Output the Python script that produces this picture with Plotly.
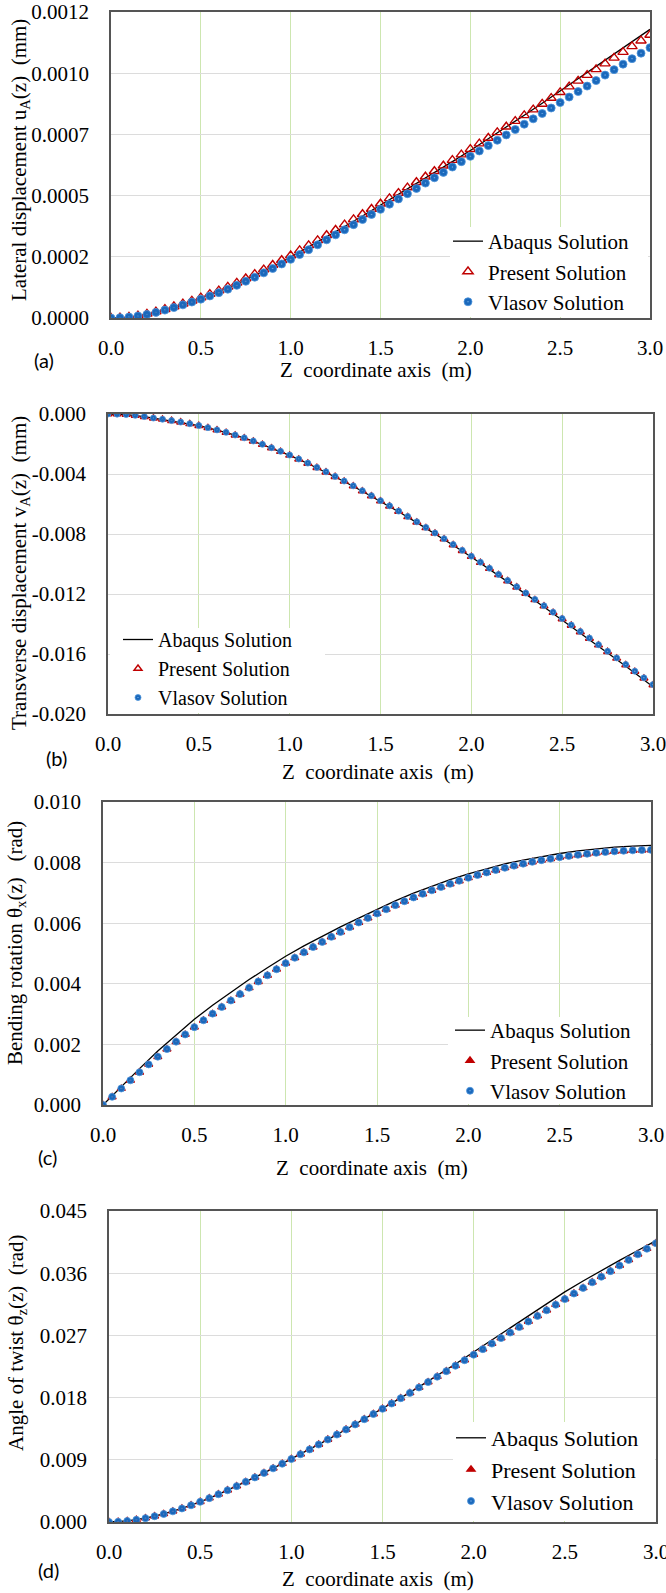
import plotly.graph_objects as go

W, H = 666, 1593

# ---------------- data ----------------
z_nodes = [0.00, 0.05, 0.10, 0.15, 0.20, 0.25, 0.30, 0.35, 0.40, 0.45,
           0.50, 0.55, 0.60, 0.65, 0.70, 0.75, 0.80, 0.85, 0.90, 0.95,
           1.00, 1.05, 1.10, 1.15, 1.20, 1.25, 1.30, 1.35, 1.40, 1.45,
           1.50, 1.55, 1.60, 1.65, 1.70, 1.75, 1.80, 1.85, 1.90, 1.95,
           2.00, 2.05, 2.10, 2.15, 2.20, 2.25, 2.30, 2.35, 2.40, 2.45,
           2.50, 2.55, 2.60, 2.65, 2.70, 2.75, 2.80, 2.85, 2.90, 2.95, 3.00]

z_abaqus = [0.0, 0.1, 0.2, 0.3, 0.4, 0.5, 0.6, 0.7, 0.8, 0.9, 1.0,
            1.1, 1.2, 1.3, 1.4, 1.5, 1.6, 1.7, 1.8, 1.9, 2.0,
            2.1, 2.2, 2.3, 2.4, 2.5, 2.6, 2.7, 2.8, 2.9, 3.0]

# (a) lateral displacement uA (mm)
u_abaqus = [0.0, 0.000003, 0.000013, 0.000030, 0.000051, 0.000076, 0.000103, 0.000133,
            0.000166, 0.000201, 0.000239, 0.000278, 0.000318, 0.000359, 0.000400, 0.000442,
            0.000484, 0.000527, 0.000570, 0.000613, 0.000657, 0.000702, 0.000748, 0.000795,
            0.000842, 0.000890, 0.000938, 0.000986, 0.001034, 0.001083, 0.001132]
u_present = [0.0, 0.0000015, 0.0000045, 0.0000095, 0.0000160, 0.0000250, 0.0000345, 0.0000450,
             0.0000560, 0.0000675, 0.0000800, 0.0000935, 0.0001075, 0.0001220, 0.0001380, 0.0001550,
             0.0001720, 0.0001900, 0.0002080, 0.0002265, 0.0002450, 0.0002650, 0.0002850, 0.0003045,
             0.0003245, 0.0003450, 0.0003660, 0.0003865, 0.0004070, 0.0004275, 0.0004480, 0.0004690,
             0.0004900, 0.0005115, 0.0005325, 0.0005540, 0.0005755, 0.0005970, 0.0006190, 0.0006405,
             0.0006620, 0.0006840, 0.0007060, 0.0007280, 0.0007500, 0.0007720, 0.0007945, 0.0008170,
             0.0008395, 0.0008625, 0.0008850, 0.0009075, 0.0009300, 0.0009525, 0.0009750, 0.0009975,
             0.0010200, 0.0010425, 0.0010650, 0.0010875, 0.0011100]
u_vlasov = [0.0, 0.0000010, 0.0000035, 0.0000080, 0.0000140, 0.0000220, 0.0000310, 0.0000410,
            0.0000515, 0.0000625, 0.0000740, 0.0000865, 0.0000995, 0.0001130, 0.0001280, 0.0001440,
            0.0001600, 0.0001770, 0.0001940, 0.0002120, 0.0002300, 0.0002490, 0.0002680, 0.0002870,
            0.0003065, 0.0003260, 0.0003460, 0.0003660, 0.0003860, 0.0004060, 0.0004260, 0.0004465,
            0.0004670, 0.0004875, 0.0005080, 0.0005290, 0.0005500, 0.0005710, 0.0005920, 0.0006130,
            0.0006340, 0.0006550, 0.0006760, 0.0006970, 0.0007180, 0.0007390, 0.0007600, 0.0007810,
            0.0008020, 0.0008235, 0.0008450, 0.0008665, 0.0008880, 0.0009095, 0.0009310, 0.0009525,
            0.0009740, 0.0009955, 0.0010170, 0.0010385, 0.0010600]

# (b) transverse displacement vA (mm)
v_abaqus = [0.0, -0.00004, -0.00017, -0.00036, -0.00055, -0.00078, -0.00107, -0.00141,
            -0.00181, -0.00226, -0.00276, -0.00330, -0.00388, -0.00450, -0.00515, -0.00582,
            -0.00652, -0.00724, -0.00798, -0.00875, -0.00953, -0.01034, -0.01117, -0.01201,
            -0.01287, -0.01373, -0.01460, -0.01548, -0.01637, -0.01727, -0.01818]
v_present = [0.0, -0.00001, -0.00004, -0.00010, -0.00018, -0.00028, -0.00036, -0.00045,
             -0.00055, -0.00066, -0.00078, -0.00092, -0.00107, -0.00124, -0.00142, -0.00161,
             -0.00182, -0.00204, -0.00227, -0.00251, -0.00276, -0.00302, -0.00330, -0.00358,
             -0.00388, -0.00418, -0.00449, -0.00481, -0.00514, -0.00547, -0.00581, -0.00615,
             -0.00650, -0.00686, -0.00722, -0.00759, -0.00796, -0.00834, -0.00873, -0.00912,
             -0.00951, -0.00991, -0.01031, -0.01072, -0.01113, -0.01155, -0.01197, -0.01239,
             -0.01281, -0.01324, -0.01367, -0.01410, -0.01453, -0.01497, -0.01541, -0.01585,
             -0.01629, -0.01673, -0.01717, -0.01762, -0.01807]
v_vlasov = [0.0, -0.00001, -0.00004, -0.00009, -0.00017, -0.00027, -0.00035, -0.00044,
            -0.00054, -0.00065, -0.00077, -0.00091, -0.00106, -0.001225, -0.00140, -0.00159,
            -0.00180, -0.00202, -0.00225, -0.00249, -0.00274, -0.00300, -0.003275, -0.00356,
            -0.003855, -0.00416, -0.00447, -0.00479, -0.005115, -0.005445, -0.00578, -0.006125,
            -0.006475, -0.00683, -0.00719, -0.00756, -0.007935, -0.008315, -0.00870, -0.00909,
            -0.00948, -0.00988, -0.010285, -0.010695, -0.011105, -0.01152, -0.01194, -0.01236,
            -0.012785, -0.01321, -0.01364, -0.01407, -0.014505, -0.01494, -0.01538, -0.01582,
            -0.01626, -0.01670, -0.017145, -0.01759, -0.01804]

# (c) bending rotation theta_x (rad)
tx_abaqus = [0.0, 0.00061, 0.00120, 0.00178, 0.00231, 0.00283, 0.00329, 0.00373,
             0.00414, 0.00453, 0.00491, 0.00525, 0.00557, 0.00588, 0.00617, 0.00646,
             0.006735, 0.00699, 0.007225, 0.00744, 0.00763, 0.007805, 0.00796, 0.008085,
             0.00820, 0.00830, 0.008387, 0.008452, 0.008512, 0.008544, 0.00857]
tx_present = [0.0, 0.000265, 0.00054, 0.00081, 0.001075, 0.001335, 0.00159, 0.00184,
              0.002085, 0.002325, 0.002565, 0.00279, 0.00301, 0.00323, 0.003445, 0.003655,
              0.003865, 0.00407, 0.004275, 0.004475, 0.004675, 0.004855, 0.005033, 0.005207,
              0.005377, 0.005545, 0.005707, 0.005865, 0.006019, 0.006169, 0.006315, 0.006455,
              0.00659, 0.00672, 0.006845, 0.006965, 0.00708, 0.00719, 0.007295, 0.007395,
              0.007495, 0.007585, 0.00767, 0.00775, 0.007825, 0.007895, 0.00796, 0.00802,
              0.008075, 0.008125, 0.008175, 0.008215, 0.008252, 0.008286, 0.008317, 0.008345,
              0.008367, 0.008385, 0.008399, 0.008409, 0.008415]
tx_vlasov = [0.0, 0.00027, 0.000545, 0.000815, 0.00108, 0.00134, 0.001595, 0.001845,
             0.00209, 0.00233, 0.00257, 0.002795, 0.003015, 0.003235, 0.00345, 0.00366,
             0.00387, 0.004075, 0.00428, 0.00448, 0.00468, 0.00486, 0.005038, 0.005212,
             0.005382, 0.00555, 0.005712, 0.00587, 0.006024, 0.006174, 0.00632, 0.00646,
             0.006595, 0.006725, 0.00685, 0.00697, 0.007085, 0.007195, 0.00730, 0.00740,
             0.00750, 0.00759, 0.007675, 0.007755, 0.00783, 0.00790, 0.007965, 0.008025,
             0.00808, 0.00813, 0.00818, 0.00822, 0.008257, 0.008291, 0.008322, 0.00835,
             0.008372, 0.00839, 0.008404, 0.008414, 0.00842]

# (d) angle of twist theta_z (rad)
tz_abaqus = [0.0, 0.00015, 0.00055, 0.00116, 0.00196, 0.00292, 0.00401, 0.00519,
             0.00645, 0.00776, 0.00911, 0.01050, 0.01193, 0.01338, 0.01487, 0.01638,
             0.01796, 0.01956, 0.02118, 0.02286, 0.02459, 0.02631, 0.02806, 0.02981,
             0.03158, 0.03330, 0.03487, 0.03639, 0.03786, 0.03928, 0.04071]
tz_present = [0.0, 0.00004, 0.00015, 0.00033, 0.00056, 0.00084, 0.00117, 0.00155,
              0.00197, 0.00243, 0.00293, 0.00346, 0.00402, 0.00460, 0.00520, 0.00582,
              0.00646, 0.00711, 0.00777, 0.00844, 0.00912, 0.00981, 0.01051, 0.01122,
              0.01194, 0.01266, 0.01339, 0.01413, 0.01488, 0.01563, 0.01639, 0.01715,
              0.01792, 0.01869, 0.01947, 0.02025, 0.02104, 0.02183, 0.02262, 0.02342,
              0.02422, 0.02502, 0.02582, 0.02662, 0.02742, 0.02822, 0.02902, 0.02983,
              0.03064, 0.03145, 0.03226, 0.03307, 0.03388, 0.03469, 0.03550, 0.03631,
              0.03712, 0.03793, 0.03874, 0.03955, 0.04035]
tz_vlasov = [0.0, 0.00004, 0.00015, 0.00032, 0.00055, 0.00083, 0.00116, 0.00154,
             0.00196, 0.00242, 0.00292, 0.00345, 0.00401, 0.00459, 0.00519, 0.00581,
             0.00645, 0.00710, 0.00776, 0.00843, 0.00911, 0.00980, 0.01050, 0.01121,
             0.01193, 0.01265, 0.01338, 0.01412, 0.01487, 0.01562, 0.01638, 0.01714,
             0.01791, 0.01868, 0.01946, 0.02024, 0.02103, 0.02182, 0.02261, 0.02341,
             0.02421, 0.02501, 0.02581, 0.02661, 0.02741, 0.02821, 0.02901, 0.02982,
             0.03063, 0.03144, 0.03225, 0.03306, 0.03387, 0.03468, 0.03549, 0.03630,
             0.03711, 0.03792, 0.03873, 0.03954, 0.04034]

x_ticks = [0.0, 0.5, 1.0, 1.5, 2.0, 2.5, 3.0]
x_ticktext = ["0.0", "0.5", "1.0", "1.5", "2.0", "2.5", "3.0"]

ya_ticks = [0.0, 0.00024, 0.00048, 0.00072, 0.00096, 0.0012]
ya_text = ["0.0000", "0.0002", "0.0005", "0.0007", "0.0010", "0.0012"]
yb_ticks = [0.0, -0.004, -0.008, -0.012, -0.016, -0.020]
yb_text = ["0.000", "-0.004", "-0.008", "-0.012", "-0.016", "-0.020"]
yc_ticks = [0.0, 0.002, 0.004, 0.006, 0.008, 0.010]
yc_text = ["0.000", "0.002", "0.004", "0.006", "0.008", "0.010"]
yd_ticks = [0.0, 0.009, 0.018, 0.027, 0.036, 0.045]
yd_text = ["0.000", "0.009", "0.018", "0.027", "0.036", "0.045"]

series_names = ["Abaqus Solution", "Present Solution", "Vlasov Solution"]
x_title = "Z\u00a0 coordinate axis\u00a0 (m)"
y_titles = ["Lateral displacement u<sub>A</sub>(z)\u00a0 (mm)",
            "Transverse displacement v<sub>A</sub>(z)\u00a0 (mm)",
            "Bending rotation \u03b8<sub>x</sub>(z)\u00a0\u00a0 (rad)",
            "Angle of twist \u03b8<sub>z</sub>(z)\u00a0 (rad)"]
panel_tags = ["(a)", "(b)", "(c)", "(d)"]

# ---------------- styling / layout ----------------
SERIF = "Liberation Serif"
RED = "#c00000"
BLUE = "#1a68bb"


def px_x(a, b):
    return [a / W, b / W]


def px_y(top, bottom):
    return [1 - bottom / H, 1 - top / H]


panels = [
    dict(ab=u_abaqus, pr=u_present, vl=u_vlasov, yr=[0, 0.0012], yt=ya_ticks, ytt=ya_text,
         dom_x=(111, 650), dom_y=(12, 318), tri="triangle-up-open", msz=9, csz=8,
         leg=dict(x=448, top=221, fs=21), mask=(450, 227, 648, 317),
         xt=(376, 370), yttl=(20, 160), tag=(44, 360)),
    dict(ab=v_abaqus, pr=v_present, vl=v_vlasov, yr=[-0.020, 0], yt=yb_ticks, ytt=yb_text,
         dom_x=(108, 653), dom_y=(414, 714), tri="triangle-up-open", msz=7, csz=6,
         leg=dict(x=118, top=620, fs=20), mask=(110, 628, 325, 713),
         xt=(378, 772), yttl=(20, 573), tag=(56, 758)),
    dict(ab=tx_abaqus, pr=tx_present, vl=tx_vlasov, yr=[0, 0.010], yt=yc_ticks, ytt=yc_text,
         dom_x=(103, 651), dom_y=(802, 1105), tri="triangle-up", msz=7, csz=7,
         leg=dict(x=450, top=1010, fs=21), mask=(448, 1017, 650, 1104),
         xt=(372, 1168), yttl=(16, 943), tag=(47, 1157)),
    dict(ab=tz_abaqus, pr=tz_present, vl=tz_vlasov, yr=[0, 0.045], yt=yd_ticks, ytt=yd_text,
         dom_x=(109, 656), dom_y=(1211, 1522), tri="triangle-up", msz=7, csz=7,
         leg=dict(x=451, top=1417, fs=22), mask=(453, 1422, 655, 1521),
         xt=(378, 1579), yttl=(17, 1343), tag=(49, 1570)),
]

fig = go.Figure()
layout = dict(
    width=W, height=H, autosize=False,
    margin=dict(l=0, r=0, t=0, b=0, pad=0, autoexpand=False),
    paper_bgcolor="white", plot_bgcolor="white",
    font=dict(family=SERIF, size=21, color="black"),
    annotations=[], shapes=[],
)

for i, p in enumerate(panels):
    n = "" if i == 0 else str(i + 1)
    xa, ya = "x" + n, "y" + n
    legname = "legend" + n

    fig.add_trace(go.Scatter(
        x=z_abaqus, y=p["ab"], mode="lines", name=series_names[0],
        line=dict(color="black", width=1.3), xaxis=xa, yaxis=ya, legend=legname))
    fig.add_trace(go.Scatter(
        x=z_nodes, y=p["pr"], mode="markers", name=series_names[1],
        marker=dict(symbol=p["tri"], size=p["msz"], color=RED,
                    line=dict(color=RED, width=1.4)),
        xaxis=xa, yaxis=ya, legend=legname))
    fig.add_trace(go.Scatter(
        x=z_nodes, y=p["vl"], mode="markers", name=series_names[2],
        marker=dict(symbol="circle-dot", size=p["csz"], color=BLUE,
                    line=dict(color="#4f95dc", width=0.8)),
        xaxis=xa, yaxis=ya, legend=legname))

    layout["xaxis" + n] = dict(
        domain=px_x(*p["dom_x"]), anchor=ya, range=[0, 3], automargin=False,
        tickvals=x_ticks, ticktext=x_ticktext, ticklabeloverflow="allow",
        ticks="outside", ticklen=10, tickcolor="rgba(0,0,0,0)",
        showgrid=True, gridcolor="#cde6b0", gridwidth=1,
        zeroline=False, showline=True, mirror=True, linecolor="#555555", linewidth=1.5,
        tickfont=dict(family=SERIF, size=21, color="black"))
    layout["yaxis" + n] = dict(
        domain=px_y(*p["dom_y"]), anchor=xa, range=p["yr"], automargin=False,
        tickvals=p["yt"], ticktext=p["ytt"], ticklabeloverflow="allow",
        ticks="outside", ticklen=16, tickcolor="rgba(0,0,0,0)",
        showgrid=True, gridcolor="#dcdcdc", gridwidth=1,
        zeroline=False, showline=True, mirror=True, linecolor="#555555", linewidth=1.5,
        tickfont=dict(family=SERIF, size=21, color="black"))

    lg = p["leg"]
    layout[legname] = dict(
        x=lg["x"] / W, y=1 - lg["top"] / H, xanchor="left", yanchor="top",
        bgcolor="rgba(255,255,255,0)", borderwidth=0,
        font=dict(family=SERIF, size=lg["fs"], color="black"))

    # white panel behind the legend, hiding the gridlines (as in the source chart)
    x0p, x1p = p["dom_x"]
    y0p, y1p = p["dom_y"]
    mx0, my0, mx1, my1 = p["mask"]
    yr0, yr1 = p["yr"]
    layout["shapes"].append(dict(
        type="rect", xref=xa, yref=ya, layer="between",
        x0=3 * (mx0 - x0p) / (x1p - x0p), x1=3 * (mx1 - x0p) / (x1p - x0p),
        y0=yr0 + (yr1 - yr0) * (y1p - my1) / (y1p - y0p),
        y1=yr0 + (yr1 - yr0) * (y1p - my0) / (y1p - y0p),
        fillcolor="white", line=dict(width=0)))

    layout["annotations"] += [
        dict(text=x_title, x=p["xt"][0] / W, y=1 - p["xt"][1] / H, xref="paper", yref="paper",
             showarrow=False, xanchor="center", yanchor="middle",
             font=dict(family=SERIF, size=21, color="black")),
        dict(text=y_titles[i], x=p["yttl"][0] / W, y=1 - p["yttl"][1] / H,
             xref="paper", yref="paper", textangle=-90,
             showarrow=False, xanchor="center", yanchor="middle",
             font=dict(family=SERIF, size=21, color="black")),
        dict(text=panel_tags[i], x=p["tag"][0] / W, y=1 - p["tag"][1] / H,
             xref="paper", yref="paper", showarrow=False,
             xanchor="center", yanchor="middle",
             font=dict(family="Lato", size=20, color="black")),
    ]

fig.update_layout(**layout)
fig.write_html(
    "out.html",
    config={"displayModeBar": False},
    post_script="document.body.style.margin='0';document.body.style.overflow='hidden';")
